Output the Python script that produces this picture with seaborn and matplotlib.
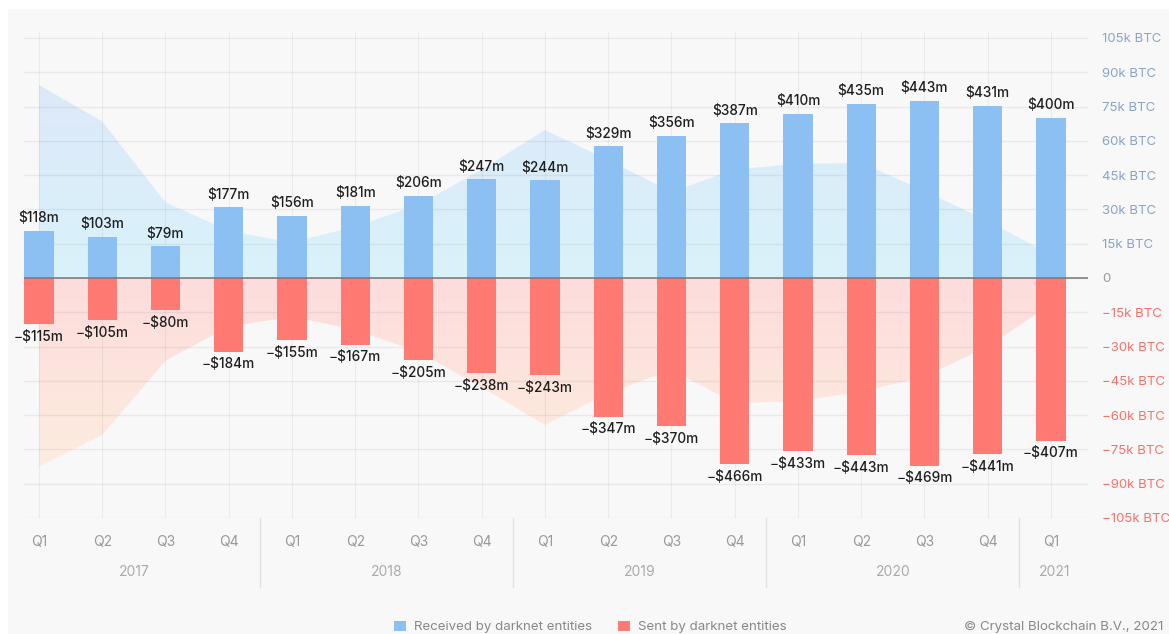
"""
Darknet entities: quarterly received vs sent (USD bars, BTC areas).
"""
import numpy as np
import pandas as pd
import matplotlib
matplotlib.use('Agg')
import matplotlib.pyplot as plt
import matplotlib.transforms as mtransforms
from matplotlib.patches import Patch, PathPatch, Rectangle
from matplotlib.colors import LinearSegmentedColormap
import seaborn as sns

# ---- data -------------------------------------------------------------
quarters = ['Q1', 'Q2', 'Q3', 'Q4'] * 4 + ['Q1']
years = ['2017'] * 4 + ['2018'] * 4 + ['2019'] * 4 + ['2020'] * 4 + ['2021']
received_usd = [118, 103, 79, 177, 156, 181, 206, 247, 244, 329, 356, 387,
                410, 435, 443, 431, 400]
sent_usd = [-115, -105, -80, -184, -155, -167, -205, -238, -243, -347, -370,
            -466, -433, -443, -469, -441, -407]
received_btc = [84.4, 68.4, 33.1, 20.6, 15.5, 22.5, 32.0, 47.4, 64.7, 51.6,
                37.6, 47.5, 49.9, 50.4, 38.0, 25.0, 10.0]
sent_btc = [-82.5, -68.7, -36.2, -21.3, -16.9, -22.7, -32.3, -47.8, -64.3,
            -50.3, -40.2, -54.7, -54.0, -49.7, -43.2, -30.0, -11.5]
btc_ticks = list(range(-105, 106, 15))
year_names = ['2017', '2018', '2019', '2020', '2021']
legend_labels = ['Received by darknet entities', 'Sent by darknet entities']

BLUE = '#8cc0f2'
RED = '#ff7a72'

sns.set_style('white')
plt.rcParams['font.family'] = ['Inter', 'DejaVu Sans']

df = pd.DataFrame({
    'period': [f"{y} {q}" for y, q in zip(years, quarters)],
    'received_usd': received_usd,
    'sent_usd': sent_usd,
})
xs = np.arange(len(df))

fig = plt.figure(figsize=(11.69, 6.34), dpi=100)
fig.patch.set_facecolor('white')
fig.patches.append(Rectangle((8 / 1169, 0), 1, 1 - 9 / 634,
                             transform=fig.transFigure, facecolor='#f8f8f8',
                             edgecolor='none', zorder=-10))

ax = fig.add_axes([24 / 1169, 116 / 634, 1064 / 1169, 486 / 634])
ax.patch.set_visible(False)
ax2 = ax.twinx()

# ---- bars (USD, hidden axis) -----------------------------------------
sns.barplot(data=df, x='period', y='received_usd', color=BLUE, width=0.46,
            saturation=1, linewidth=0, ax=ax2)
sns.barplot(data=df, x='period', y='sent_usd', color=RED, width=0.46,
            saturation=1, linewidth=0, ax=ax2)
ax2.bar_label(ax2.containers[0], labels=[f"${v}m" for v in received_usd],
              padding=4, fontsize=9.8, fontweight='medium', color='#1e1e1e')
ax2.bar_label(ax2.containers[1],
              labels=[f"\u2212${-v}m" for v in sent_usd],
              padding=4, fontsize=9.8, fontweight='medium', color='#1e1e1e')
ax2.axhline(0, color='#777777', linewidth=1.1, zorder=5)
ax2.set_ylim(-600, 615)
ax2.yaxis.set_visible(False)
ax2.set_xlabel('')
ax2.set_ylabel('')

# ---- areas (BTC, right axis) -----------------------------------------
def gradient_area(ax, x, y, c0, c1, y0, y1):
    poly = ax.fill_between(x, 0, y, facecolor='none', edgecolor='none')
    clip = PathPatch(poly.get_paths()[0], transform=ax.transData,
                     facecolor='none', edgecolor='none')
    ax.add_patch(clip)
    cmap = LinearSegmentedColormap.from_list('g', [c0, c1])
    grad = np.linspace(0, 1, 256).reshape(-1, 1)
    im = ax.imshow(grad, cmap=cmap, aspect='auto', origin='lower',
                   extent=[x[0], x[-1], y0, y1], zorder=1)
    im.set_clip_path(clip)

gradient_area(ax, xs, received_btc, '#d9f2f9', '#dde8fa', 0, 90)
gradient_area(ax, xs, sent_btc, '#fdeedf', '#fcdcdc', -90, 0)

ax.set_xlim(-0.237, 16.585)
ax.set_ylim(-105, 107.6)

# grid
for t in btc_ticks:
    ax.axhline(t, color='#000000', alpha=0.06, linewidth=1, zorder=2)
for x in xs:
    ax.axvline(x, color='#000000', alpha=0.05, linewidth=0.8, zorder=2)

for s in ['top', 'right', 'left', 'bottom']:
    ax.spines[s].set_visible(False)
    ax2.spines[s].set_visible(False)

# right y labels
ax.yaxis.tick_right()
ax.set_yticks(btc_ticks)
ax.set_yticklabels([('0' if t == 0 else
                     (f"{t}k BTC" if t > 0 else f"\u2212{-t}k BTC"))
                    for t in btc_ticks])
ax.tick_params(axis='y', length=0, pad=10, labelsize=9.5)
for t, lab in zip(btc_ticks, ax.get_yticklabels()):
    lab.set_color('#8aa3c6' if t > 0 else ('#9a9a9a' if t == 0 else '#f4726a'))

# x labels
ax.set_xticks(xs)
ax.set_xticklabels(quarters)
ax.tick_params(axis='x', length=6, width=1, color='#bdbdbd', pad=6,
               labelsize=10, labelcolor='#999999')

trans = mtransforms.blended_transform_factory(ax.transData, ax.transAxes)
for sep in [3.5, 7.5, 11.5, 15.5]:
    ax.plot([sep, sep], [0, -0.142], transform=trans, color='#e2e2e2',
            linewidth=1, clip_on=False)
year_pos = [1.5, 5.5, 9.5, 13.5, 16.05]
for yr, xp in zip(year_names, year_pos):
    ax.text(xp, -0.111, yr, transform=trans, ha='center', va='center',
            fontsize=10, color='#aaaaaa')

# legend + credit
handles = [Patch(facecolor=BLUE, edgecolor='none'),
           Patch(facecolor=RED, edgecolor='none')]
leg = fig.legend(handles, legend_labels, loc='center',
                 bbox_to_anchor=(0.505, 0.011), ncol=2, frameon=False,
                 fontsize=9.6, handlelength=0.85, handleheight=0.85,
                 handletextpad=0.6, columnspacing=2.0)
for txt in leg.get_texts():
    txt.set_color('#888888')
fig.text(1163 / 1169, 0.011, '\u00a9 Crystal Blockchain B.V., 2021',
         ha='right', va='center', fontsize=9.6, color='#888888')

fig.savefig('out.png', dpi=100)
